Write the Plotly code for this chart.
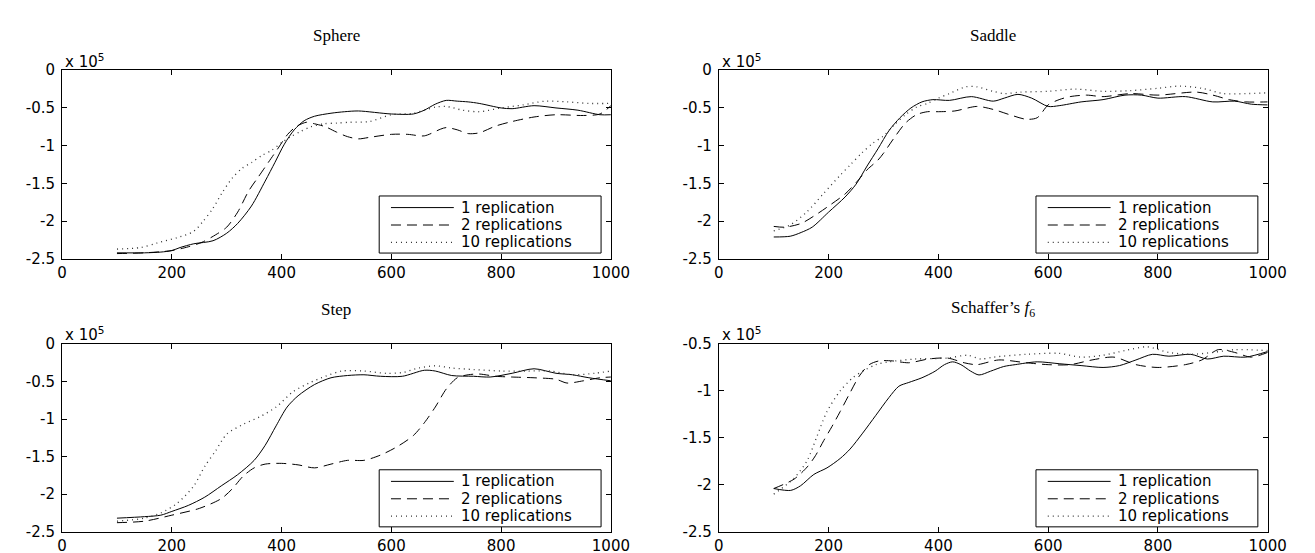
import plotly.graph_objects as go

# ---------------- data (values in units of 10^5) ----------------
series_names = ["1 replication", "2 replications", "10 replications"]
panel_titles = ["Sphere", "Saddle", "Step", "Schaffer\u2019s <i>f</i><sub>6</sub>"]

x_tick_vals = [0, 200, 400, 600, 800, 1000]
x_tick_text = ["0", "200", "400", "600", "800", "1000"]
y_tick_vals = [0, -0.5, -1, -1.5, -2, -2.5]
y_tick_text = ["0", "-0.5", "-1", "-1.5", "-2", "-2.5"]
y_tick_vals_f6 = [-0.5, -1, -1.5, -2, -2.5]
y_tick_text_f6 = ["-0.5", "-1", "-1.5", "-2", "-2.5"]

# Sphere
sphere_x1 = [100, 150, 180, 200, 215, 240, 275, 300, 320, 345, 370, 388, 405, 423, 441, 460, 490, 515, 540, 600, 640, 660, 680, 700, 720, 740, 760, 800, 820, 860, 900, 940, 980, 1000]
sphere_y1 = [-2.42, -2.42, -2.41, -2.39, -2.35, -2.30, -2.26, -2.16, -2.03, -1.80, -1.47, -1.22, -0.98, -0.79, -0.67, -0.61, -0.57, -0.55, -0.54, -0.58, -0.58, -0.53, -0.45, -0.40, -0.41, -0.42, -0.44, -0.50, -0.51, -0.47, -0.50, -0.53, -0.59, -0.59]
sphere_x2 = [100, 150, 200, 230, 255, 280, 300, 320, 340, 358, 376, 394, 411, 426, 445, 460, 480, 500, 520, 540, 560, 600, 630, 660, 690, 700, 720, 740, 760, 790, 820, 860, 900, 950, 980, 1000]
sphere_y2 = [-2.43, -2.42, -2.39, -2.34, -2.28, -2.18, -2.08, -1.88, -1.60, -1.41, -1.22, -1.03, -0.85, -0.75, -0.69, -0.71, -0.75, -0.82, -0.88, -0.91, -0.89, -0.85, -0.85, -0.87, -0.78, -0.76, -0.79, -0.84, -0.83, -0.74, -0.68, -0.62, -0.59, -0.60, -0.58, -0.47]
sphere_x10 = [100, 143, 173, 209, 239, 256, 274, 292, 310, 328, 346, 364, 382, 400, 417, 435, 453, 477, 501, 525, 560, 600, 640, 680, 700, 730, 760, 800, 840, 880, 920, 960, 1000]
sphere_y10 = [-2.37, -2.35, -2.29, -2.22, -2.14, -2.01, -1.84, -1.62, -1.43, -1.30, -1.22, -1.13, -1.06, -0.96, -0.88, -0.81, -0.75, -0.71, -0.70, -0.69, -0.68, -0.59, -0.57, -0.49, -0.48, -0.53, -0.55, -0.50, -0.46, -0.41, -0.42, -0.44, -0.44]

# Saddle
saddle_x1 = [100, 130, 150, 170, 200, 230, 250, 270, 290, 310, 330, 350, 370, 390, 420, 460, 500, 520, 545, 570, 600, 620, 660, 700, 740, 770, 800, 850, 900, 940, 970, 1000]
saddle_y1 = [-2.21, -2.20, -2.15, -2.08, -1.88, -1.68, -1.51, -1.27, -1.04, -0.80, -0.63, -0.50, -0.42, -0.39, -0.40, -0.35, -0.41, -0.37, -0.32, -0.37, -0.48, -0.47, -0.42, -0.39, -0.33, -0.33, -0.37, -0.35, -0.42, -0.41, -0.45, -0.46]
saddle_x2 = [100, 120, 150, 180, 200, 230, 250, 270, 290, 300, 320, 340, 360, 380, 400, 430, 470, 500, 530, 560, 580, 600, 620, 640, 670, 700, 750, 800, 870, 900, 930, 960, 1000]
saddle_y2 = [-2.07, -2.08, -2.03, -1.90, -1.80, -1.64, -1.49, -1.32, -1.19, -1.10, -0.89, -0.70, -0.59, -0.55, -0.55, -0.54, -0.48, -0.52, -0.59, -0.65, -0.63, -0.46, -0.39, -0.35, -0.33, -0.35, -0.31, -0.33, -0.29, -0.33, -0.39, -0.42, -0.42]
saddle_x10 = [100, 130, 160, 190, 220, 240, 260, 280, 300, 320, 340, 360, 380, 400, 420, 450, 470, 500, 520, 550, 600, 650, 700, 750, 800, 840, 880, 920, 960, 1000]
saddle_y10 = [-2.13, -2.05, -1.88, -1.64, -1.40, -1.25, -1.10, -0.97, -0.87, -0.72, -0.59, -0.49, -0.44, -0.37, -0.31, -0.22, -0.22, -0.28, -0.31, -0.29, -0.28, -0.25, -0.28, -0.27, -0.24, -0.21, -0.24, -0.31, -0.31, -0.30]

# Step
step_x1 = [100, 150, 180, 200, 230, 260, 290, 320, 350, 370, 390, 410, 430, 460, 490, 520, 550, 580, 620, 660, 680, 710, 750, 780, 820, 860, 900, 930, 960, 1000]
step_y1 = [-2.32, -2.30, -2.28, -2.23, -2.15, -2.04, -1.89, -1.74, -1.55, -1.35, -1.09, -0.84, -0.69, -0.54, -0.45, -0.42, -0.41, -0.43, -0.43, -0.35, -0.36, -0.42, -0.43, -0.44, -0.39, -0.33, -0.39, -0.41, -0.45, -0.49]
step_x2 = [100, 150, 200, 250, 290, 310, 330, 350, 370, 400, 430, 460, 490, 520, 550, 580, 610, 640, 660, 680, 700, 720, 740, 760, 790, 820, 860, 900, 920, 950, 980, 1000]
step_y2 = [-2.38, -2.36, -2.28, -2.19, -2.06, -1.93, -1.76, -1.65, -1.60, -1.59, -1.61, -1.65, -1.60, -1.55, -1.55, -1.48, -1.37, -1.22, -1.05, -0.84, -0.60, -0.45, -0.41, -0.40, -0.43, -0.44, -0.45, -0.47, -0.52, -0.49, -0.45, -0.44]
step_x10 = [100, 150, 180, 210, 240, 260, 280, 300, 330, 360, 390, 420, 450, 480, 510, 550, 590, 620, 650, 680, 710, 750, 800, 850, 890, 930, 970, 1000]
step_y10 = [-2.36, -2.32, -2.25, -2.12, -1.89, -1.63, -1.42, -1.20, -1.07, -0.97, -0.84, -0.64, -0.52, -0.43, -0.36, -0.36, -0.39, -0.38, -0.32, -0.29, -0.32, -0.34, -0.36, -0.36, -0.36, -0.41, -0.39, -0.36]

# Schaffer's f6
f6_x1 = [100, 131, 149, 173, 197, 221, 239, 262, 286, 310, 328, 346, 370, 394, 411, 426, 441, 459, 474, 495, 519, 540, 580, 620, 660, 700, 730, 760, 790, 820, 860, 890, 920, 960, 1000]
f6_y1 = [-2.04, -2.06, -2.01, -1.89, -1.82, -1.72, -1.62, -1.45, -1.26, -1.07, -0.95, -0.91, -0.86, -0.79, -0.72, -0.69, -0.72, -0.79, -0.83, -0.79, -0.74, -0.72, -0.69, -0.71, -0.73, -0.75, -0.73, -0.67, -0.61, -0.63, -0.61, -0.66, -0.63, -0.64, -0.58]
f6_x2 = [100, 137, 161, 176, 191, 206, 221, 239, 256, 274, 292, 316, 346, 382, 417, 447, 470, 510, 560, 600, 640, 680, 720, 760, 800, 850, 880, 910, 940, 970, 1000]
f6_y2 = [-2.04, -1.94, -1.81, -1.69, -1.53, -1.38, -1.22, -1.02, -0.84, -0.72, -0.68, -0.68, -0.70, -0.66, -0.65, -0.70, -0.72, -0.67, -0.70, -0.72, -0.72, -0.67, -0.64, -0.72, -0.75, -0.72, -0.67, -0.56, -0.59, -0.64, -0.59]
f6_x10 = [100, 137, 161, 179, 197, 221, 244, 262, 286, 310, 358, 417, 453, 477, 500, 560, 620, 660, 700, 740, 780, 820, 860, 900, 940, 1000]
f6_y10 = [-2.10, -1.93, -1.74, -1.48, -1.22, -1.00, -0.86, -0.79, -0.72, -0.69, -0.66, -0.65, -0.62, -0.66, -0.64, -0.61, -0.60, -0.64, -0.62, -0.57, -0.53, -0.59, -0.61, -0.59, -0.56, -0.57]

panels = [
    [(sphere_x1, sphere_y1), (sphere_x2, sphere_y2), (sphere_x10, sphere_y10)],
    [(saddle_x1, saddle_y1), (saddle_x2, saddle_y2), (saddle_x10, saddle_y10)],
    [(step_x1, step_y1), (step_x2, step_y2), (step_x10, step_y10)],
    [(f6_x1, f6_y1), (f6_x2, f6_y2), (f6_x10, f6_y10)],
]
y_ranges = [[-2.5, 0], [-2.5, 0], [-2.5, 0], [-2.5, -0.5]]
y_ticks = [(y_tick_vals, y_tick_text)] * 3 + [(y_tick_vals_f6, y_tick_text_f6)]

# ---------------- styling / layout ----------------
W, H = 1315, 553
boxes = [(50, 609, 55, 250), (719, 1278, 55, 250), (50, 609, 338, 532), (719, 1278, 338, 532)]
dashes = ["solid", "10px,6px", "1px,4px"]
widths = [1, 1, 1.3]
colors = ["black", "black", "#333333"]
sans = "DejaVu Sans, Liberation Sans, Arial, sans-serif"
serif = "Liberation Serif, Times New Roman, serif"
tick_size = 15

def px(xp):
    return xp / W

def py(yp):
    return 1 - yp / H

fig = go.Figure()
layout = dict(
    width=W, height=H, margin=dict(l=0, r=0, t=0, b=0),
    paper_bgcolor="white", plot_bgcolor="white", showlegend=False,
)
annotations = []
shapes = []

for i, (l, r, t, b) in enumerate(boxes):
    k = "" if i == 0 else str(i + 1)
    axis_common = dict(
        showline=True, linecolor="black", linewidth=1, mirror="ticks",
        ticks="inside", ticklen=5, tickcolor="black", tickwidth=1,
        showgrid=False, zeroline=False,
        tickfont=dict(family=sans, size=tick_size, color="black"),
    )
    layout["xaxis" + k] = dict(
        axis_common, domain=[px(l), px(r)], anchor="y" + k, range=[0, 1000],
        tickmode="array", tickvals=x_tick_vals, ticktext=x_tick_text,
    )
    yv, yt = y_ticks[i]
    layout["yaxis" + k] = dict(
        axis_common, domain=[py(b), py(t)], anchor="x" + k, range=y_ranges[i],
        tickmode="array", tickvals=yv, ticktext=yt, ticklabelstandoff=3,
    )
    for j, (xs, ys) in enumerate(panels[i]):
        fig.add_trace(go.Scatter(
            x=xs, y=ys, mode="lines", name=series_names[j],
            line=dict(color=colors[j], width=widths[j], dash=dashes[j], shape="spline", smoothing=0.8),
            xaxis="x" + k, yaxis="y" + k, showlegend=False, hoverinfo="skip",
        ))
    # panel title
    annotations.append(dict(
        text=panel_titles[i], x=px((l + r) / 2), y=py(t - 36), xref="paper", yref="paper",
        xanchor="center", yanchor="middle", showarrow=False,
        font=dict(family=serif, size=17, color="black"),
    ))
    # exponent label
    annotations.append(dict(
        text="x 10<sup>5</sup>", x=px(l + 1), y=py(t - 10), xref="paper", yref="paper",
        xanchor="left", yanchor="middle", showarrow=False,
        font=dict(family=sans, size=tick_size, color="black"),
    ))
    # legend box
    shapes.append(dict(
        type="rect", xref="paper", yref="paper",
        x0=px(l + 323), x1=px(l + 549), y0=py(t + 130), y1=py(t + 189),
        line=dict(color="black", width=1), fillcolor="white", layer="above",
    ))
    for j, name in enumerate(series_names):
        yc = t + 142 + 18 * j
        shapes.append(dict(
            type="line", xref="paper", yref="paper",
            x0=px(l + 335), x1=px(l + 399), y0=py(yc), y1=py(yc),
            line=dict(color=colors[j], width=widths[j], dash=dashes[j]), layer="above",
        ))
        annotations.append(dict(
            text=name, x=px(l + 404), y=py(yc), xref="paper", yref="paper",
            xanchor="left", yanchor="middle", showarrow=False,
            font=dict(family=sans, size=tick_size, color="black"),
        ))

layout["annotations"] = annotations
layout["shapes"] = shapes
fig.update_layout(**layout)
fig.write_html("out.html")
